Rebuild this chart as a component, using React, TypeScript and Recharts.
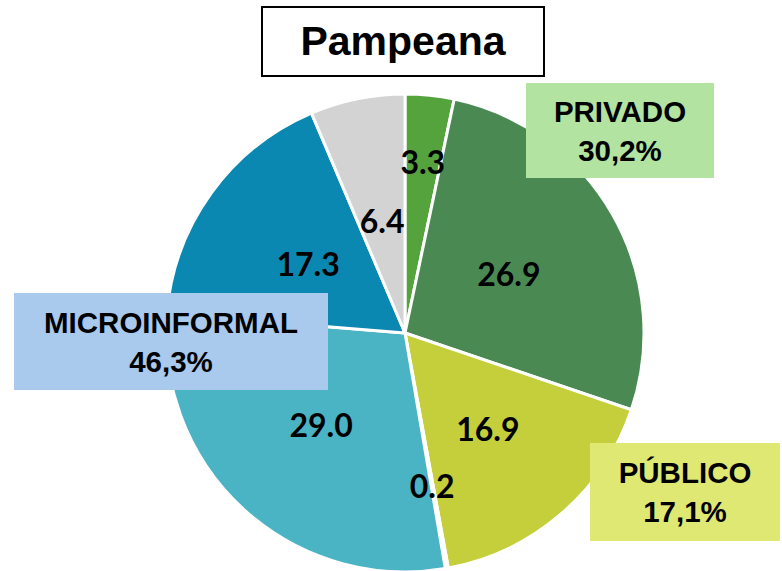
import { PieChart, Pie, Cell } from "recharts"

const sectors = ["Privado A", "Privado B", "Público A", "Público B", "Micro A", "Micro B", "Otros"]
const values = [3.3, 26.9, 16.9, 0.2, 29.0, 17.3, 6.4]
const groups = [
  { name: "PRIVADO", pct: "30,2%" },
  { name: "MICROINFORMAL", pct: "46,3%" },
  { name: "PÚBLICO", pct: "17,1%" },
]
const title = "Pampeana"

const COLORS = ["#55a33d", "#4a8a52", "#c4cf3b", "#ffffff", "#4ab4c4", "#0b88b1", "#d3d3d3"]
const LABEL_R = [0.72, 0.5, 0.53, 0.65, 0.52, 0.5, 0.48]

const data = sectors.map((s, i) => ({ name: s, value: values[i] }))

const RAD = Math.PI / 180

function renderLabel(props: any) {
  const { cx, cy, midAngle, outerRadius, index, value } = props
  const r = outerRadius * LABEL_R[index]
  const x = cx + r * Math.cos(-midAngle * RAD)
  const y = cy + r * Math.sin(-midAngle * RAD)
  return (
    <text
      x={x}
      y={y}
      textAnchor="middle"
      dominantBaseline="central"
      fill="#000"
      fontFamily="Lato, sans-serif"
      fontWeight="bold"
      fontSize={32}
    >
      {value.toFixed(1)}
    </text>
  )
}

const boxText = {
  fontFamily: "'Liberation Sans', Arial, sans-serif",
  fontWeight: "bold" as const,
  fontSize: 29.5,
  lineHeight: "39px",
  color: "#000",
  textAlign: "center" as const,
  position: "absolute" as const,
  display: "flex",
  flexDirection: "column" as const,
  justifyContent: "center",
}

export default function App() {
  return (
    <div style={{ position: "absolute", left: 0, top: 0, width: 782, height: 571, background: "#fff", overflow: "hidden" }}>
      <PieChart width={782} height={571} margin={{ top: 0, right: 0, bottom: 0, left: 0 }}>
        <Pie
          data={data}
          dataKey="value"
          cx={405}
          cy={333}
          outerRadius={239}
          startAngle={90}
          endAngle={-270}
          stroke="#fff"
          strokeWidth={3}
          label={renderLabel}
          labelLine={false}
          isAnimationActive={false}
        >
          {data.map((entry, index) => (
            <Cell key={`cell-${index}`} fill={COLORS[index]} />
          ))}
        </Pie>
      </PieChart>
      <div
        style={{
          ...boxText,
          left: 261,
          top: 6,
          width: 284,
          height: 71,
          boxSizing: "border-box",
          border: "2px solid #000",
          background: "#fff",
          fontSize: 41,
        }}
      >
        {title}
      </div>
      <div style={{ ...boxText, left: 526, top: 83, width: 188, height: 95, background: "#b3e3a0" }}>
        <span>{groups[0].name}</span>
        <span>{groups[0].pct}</span>
      </div>
      <div style={{ ...boxText, left: 14, top: 293, width: 314, height: 97, background: "#a9caec" }}>
        <span>{groups[1].name}</span>
        <span>{groups[1].pct}</span>
      </div>
      <div style={{ ...boxText, left: 590, top: 443, width: 190, height: 98, background: "#dee872" }}>
        <span>{groups[2].name}</span>
        <span>{groups[2].pct}</span>
      </div>
    </div>
  )
}
